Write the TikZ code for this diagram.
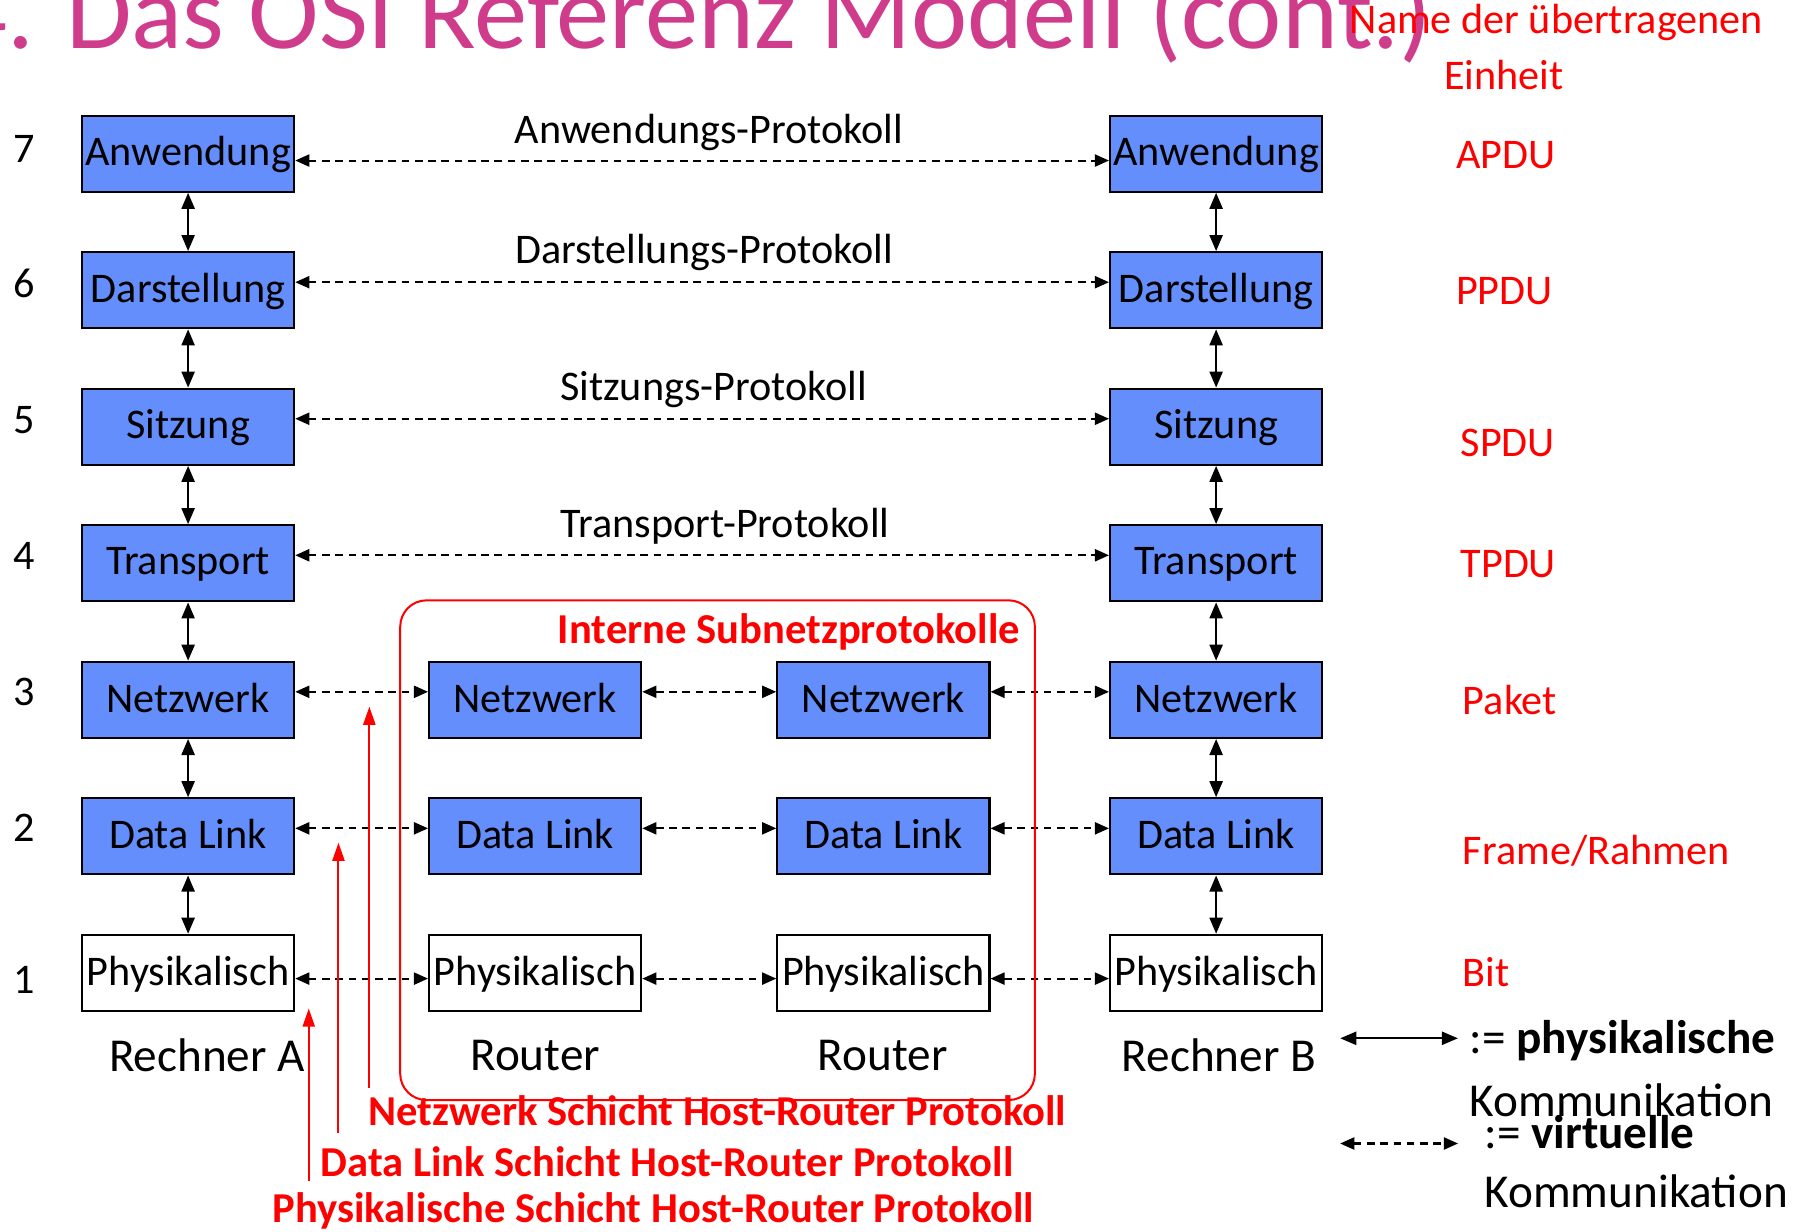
\documentclass[tikz,border=0pt]{standalone}
\usepackage{fontspec}
\setmainfont{Carlito}
\usetikzlibrary{arrows.meta}
\usetikzlibrary{calc}

\definecolor{layerblue}{RGB}{99,142,252}
\definecolor{titlepink}{RGB}{208,60,140}

\begin{document}
\begin{tikzpicture}[x=0.02cm,y=-0.02cm,
  layer/.style={draw=black,line width=1.1pt,fill=layerblue,minimum width=3.71cm,minimum height=1.33cm,inner sep=0pt,text depth=0.5ex,font=\fontsize{21}{25}\selectfont},
  phys/.style={layer,fill=white},
  lbl/.style={inner sep=0pt,font=\fontsize{21}{25}\selectfont},
  biglbl/.style={inner sep=0pt,font=\fontsize{23.5}{28}\selectfont},
  redlbl/.style={lbl,text=red},
  redbold/.style={inner sep=0pt,text=red,font=\fontsize{21.2}{25}\selectfont\bfseries},
  virt/.style={{Triangle[length=7pt,width=6pt]}-{Triangle[length=7pt,width=6pt]},dash pattern=on 3.8pt off 2.8pt,line width=1pt},
  phy/.style={{Triangle[length=8pt,width=6.5pt]}-{Triangle[length=8pt,width=6.5pt]},line width=1.1pt},
  hint/.style={red,line width=1pt,-{Triangle[length=9pt,width=6pt]}}]
\path[use as bounding box] (0,0) rectangle (1568,1077);
\clip (0,0) rectangle (1568,1077);

% title (cut at the top)
\node[anchor=base west,inner sep=0pt,text=titlepink,font=\fontsize{53}{61}\selectfont] (title) at (-41,42) {4. Das OSI Referenz Modell (cont.)};

% Rechner A
\node[layer] (a7) at (164.5,134.4) {Anwendung};
\node[layer] (a6) at (164.5,253.8) {Darstellung};
\node[layer] (a5) at (164.5,373.2) {Sitzung};
\node[layer] (a4) at (164.5,492.6) {Transport};
\node[layer] (a3) at (164.5,612) {Netzwerk};
\node[layer] (a2) at (164.5,731.4) {Data Link};
\node[phys] (a1) at (164.5,850.8) {Physikalisch};
% Router 1 + 2
\node[layer] (r3) at (468,612) {Netzwerk};
\node[layer] (r2) at (468,731.4) {Data Link};
\node[phys] (r1) at (468,850.8) {Physikalisch};
\node[layer] (s3) at (772.5,612) {Netzwerk};
\node[layer] (s2) at (772.5,731.4) {Data Link};
\node[phys] (s1) at (772.5,850.8) {Physikalisch};
% Rechner B
\node[layer] (b7) at (1063.5,134.4) {Anwendung};
\node[layer] (b6) at (1063.5,253.8) {Darstellung};
\node[layer] (b5) at (1063.5,373.2) {Sitzung};
\node[layer] (b4) at (1063.5,492.6) {Transport};
\node[layer] (b3) at (1063.5,612) {Netzwerk};
\node[layer] (b2) at (1063.5,731.4) {Data Link};
\node[phys] (b1) at (1063.5,850.8) {Physikalisch};

% layer numbers
\node[lbl] (n7) at (21,130) {7};
\node[lbl] (n6) at (21,248) {6};
\node[lbl] (n5) at (21,367) {5};
\node[lbl] (n4) at (21,486) {4};
\node[lbl] (n3) at (21,605) {3};
\node[lbl] (n2) at (21,724) {2};
\node[lbl] (n1) at (21,857) {1};

% physical communication inside the hosts
\foreach \u/\l in {7/6,6/5,5/4,4/3,3/2,2/1}{
  \draw[phy] (a\u.south) -- (a\l.north);
  \draw[phy] (b\u.south) -- (b\l.north);
}

% peer protocols
\draw[virt] ($(a7.east)+(0,6)$) -- ($(b7.west)+(0,6)$);
\draw[virt] ($(a6.east)+(0,-7)$) -- ($(b6.west)+(0,-7)$);
\draw[virt] ($(a5.east)+(0,-7)$) -- ($(b5.west)+(0,-7)$);
\draw[virt] ($(a4.east)+(0,-7)$) -- ($(b4.west)+(0,-7)$);
\node[lbl] (pa) at (620,116) {Anwendungs-Protokoll};
\node[lbl] (pd) at (616,221) {Darstellungs-Protokoll};
\node[lbl] (ps) at (624,341) {Sitzungs-Protokoll};
\node[lbl] (pt) at (634,460) {Transport-Protokoll};
\foreach \k/\d in {3/-7,2/-7,1/5}{
  \draw[virt] ($(a\k.east)+(0,\d)$) -- ($(r\k.west)+(0,\d)$);
  \draw[virt] ($(r\k.east)+(0,\d)$) -- ($(s\k.west)+(0,\d)$);
  \draw[virt] ($(s\k.east)+(0,\d)$) -- ($(b\k.west)+(0,\d)$);
}

% subnet
\draw[red,line width=1pt,rounded corners=0.46cm] (350,525) rectangle (905,962);
\node[redbold] (subnet) at (690,553) {Interne Subnetzprotokolle};

\node[biglbl] (ra) at (181,923) {Rechner A};
\node[biglbl] (ro1) at (468,923) {Router};
\node[biglbl] (ro2) at (772,923) {Router};
\node[biglbl] (rb) at (1066,923) {Rechner B};

% host-router protocols
\node[redbold,anchor=west] (hn) at (322,971) {Netzwerk Schicht Host-Router Protokoll};
\node[redbold,anchor=west] (hd) at (280,1016) {Data Link Schicht Host-Router Protokoll};
\node[redbold,anchor=west] (hp) at (238,1059) {Physikalische Schicht Host-Router Protokoll};
\coordinate (tn) at (323,618);
\coordinate (td) at (296,737);
\coordinate (tp) at (270,882);
\draw[hint] ($(hn.north -| tn)+(0,-6)$) -- (tn);
\draw[hint] ($(hd.north -| td)+(0,-12)$) -- (td);
\draw[hint] ($(hp.north -| tp)+(0,-10)$) -- (tp);

% units
\node[redlbl] (unit) at (1361,20) {Name der übertragenen};
\node[redlbl] (unit2) at (1315,66) {Einheit};
\node[redlbl,anchor=west] (u7) at (1273,136) {APDU};
\node[redlbl,anchor=west] (u6) at (1273,255) {PPDU};
\node[redlbl,anchor=west] (u5) at (1277,387) {SPDU};
\node[redlbl,anchor=west] (u4) at (1277,493) {TPDU};
\node[redlbl,anchor=west] (u3) at (1279,612) {Paket};
\node[redlbl,anchor=west] (u2) at (1279,744) {Frame/Rahmen};
\node[redlbl,anchor=west] (u1) at (1279,850) {Bit};

% legend
\coordinate (l1a) at (1172,908);
\coordinate (l1b) at (1275,908);
\coordinate (l2a) at (1172,1000);
\coordinate (l2b) at (1275,1000);
\draw[phy] (l1a) -- (l1b);
\draw[virt] (l2a) -- (l2b);
\node[biglbl,anchor=west] (leg1) at (1285,910) {:= \textbf{physikalische}};
\node[biglbl,anchor=west] (leg1b) at (1285,962) {Kommunikation};
\node[biglbl,anchor=west] (leg2) at (1298,990) {:= \textbf{virtuelle}};
\node[biglbl,anchor=west] (leg2b) at (1298,1042) {Kommunikation};
\end{tikzpicture}
\end{document}
